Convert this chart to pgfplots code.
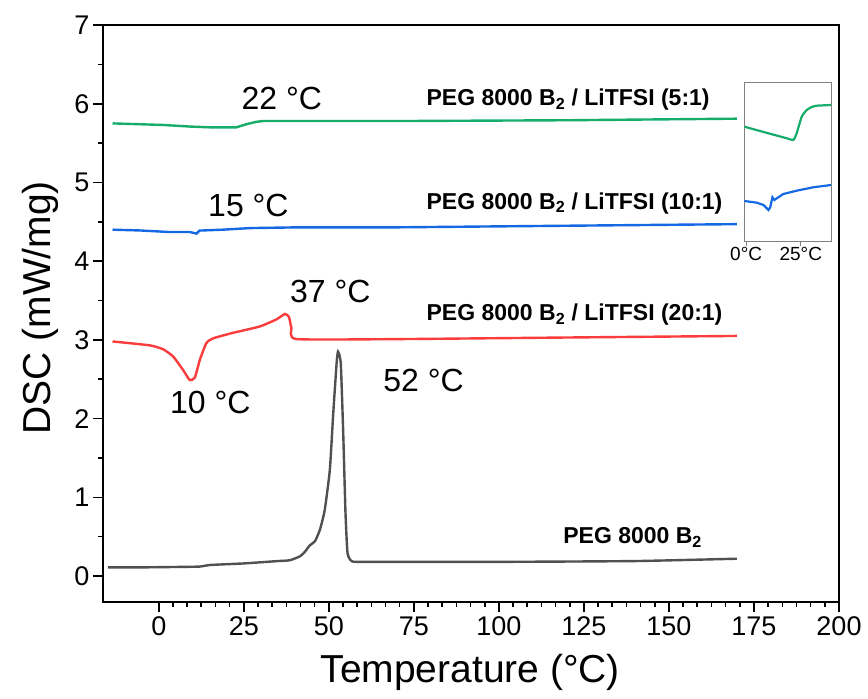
\documentclass[border=0pt]{standalone}
\usepackage{pgfplots}
\pgfplotsset{compat=1.18}
\usepackage{fontspec}
\setmainfont{Liberation Sans}
\definecolor{cgreen}{RGB}{22,172,106}
\definecolor{cblue}{RGB}{20,104,226}
\definecolor{cred}{RGB}{250,60,60}
\definecolor{cgray}{RGB}{80,80,80}
\begin{document}
\begin{tikzpicture}
\useasboundingbox (-103pt,-97pt) rectangle (765pt,602pt);
\begin{axis}[
  at={(0pt,0pt)}, anchor=south west,
  scale only axis, width=736pt, height=577pt,
  xmin=-16.4, xmax=200, ymin=-0.33, ymax=7,
  xtick={0,25,...,200}, ytick={0,1,...,7},
  minor x tick num=5, minor y tick num=1,
  tick align=outside, xtick pos=bottom, ytick pos=left,
  major tick length=10pt, minor tick length=5pt,
  axis line style={line width=1.8pt},
  every tick/.style={black, line width=1.6pt},
  /pgf/number format/assume math mode=true,
  tick label style={font=\fontsize{27}{27}\selectfont},
  xticklabel style={yshift=-1pt},
  xlabel={Temperature (°C)}, ylabel={DSC (mW/mg)},
  label style={font=\fontsize{39}{39}\selectfont},
  xlabel style={at={(axis description cs:0.499,-0.139)}, anchor=base},
  ylabel style={at={(axis description cs:-0.072,0.51)}, anchor=base, rotate=0},
  clip=false,
]
\addplot[cgray, line width=2.4pt, smooth, tension=0.3] coordinates {
(-15,0.11)(-5,0.11)(5,0.115)(12,0.12)(15,0.14)(25,0.16)(35,0.19)(38.5,0.20)(41.5,0.25)(43,0.31)(44.4,0.39)(45.9,0.44)(47.4,0.59)(48.8,0.84)(50.3,1.35)(51.3,2.07)(52.3,2.71)(52.7,2.85)(53.5,2.71)(54.2,1.86)(54.9,0.80)(55.5,0.29)(56.7,0.19)(60,0.18)(100,0.18)(140,0.19)(170,0.22)};
\addplot[cred, line width=2.4pt, smooth, tension=0.3] coordinates {
(-13.6,2.98)(-2.6,2.93)(1.3,2.88)(4.2,2.79)(7.1,2.62)(9.1,2.49)(10.6,2.52)(12.1,2.75)(14,2.96)(16,3.02)(21.9,3.09)(29.7,3.17)(34.6,3.26)(37.1,3.33)(38.3,3.29)(39,3.15)(40.5,3.01)(70.9,3.01)(120,3.03)(170,3.05)};
\addplot[cblue, line width=2.4pt] coordinates {
(-13.6,4.40)(-5.6,4.39)(3.2,4.37)(9.1,4.37)(11.1,4.35)(12,4.39)(13,4.39)(18.9,4.40)(26.8,4.42)(41.5,4.43)(70.9,4.43)(120,4.45)(170,4.47)};
\addplot[cgreen, line width=2.4pt] coordinates {
(-13.6,5.75)(1.3,5.73)(9.1,5.71)(15,5.70)(22.8,5.70)(25.8,5.74)(28.7,5.77)(30.7,5.78)(41.5,5.78)(70.9,5.78)(120,5.79)(170,5.81)};
\begin{scope}[font=\fontsize{32}{32}\selectfont]
\node[anchor=base west] at (axis cs:23.3,5.93) {22 °C};
\node[anchor=base west] at (axis cs:13.5,4.57) {15 °C};
\node[anchor=base west] at (axis cs:37.6,3.48) {37 °C};
\node[anchor=base west] at (axis cs:2.3,2.07) {10 °C};
\node[anchor=base west] at (axis cs:65,2.35) {52 °C};
\end{scope}
\begin{scope}[font=\fontsize{23}{23}\selectfont\bfseries]
\node[anchor=base west, inner sep=0pt] at (axis cs:78.7,5.98) {PEG 8000 B\textsubscript{2} / LiTFSI (5:1)};
\node[anchor=base west, inner sep=0pt] at (axis cs:78.7,4.66) {PEG 8000 B\textsubscript{2} / LiTFSI (10:1)};
\node[anchor=base west, inner sep=0pt] at (axis cs:78.7,3.24) {PEG 8000 B\textsubscript{2} / LiTFSI (20:1)};
\node[anchor=base west, inner sep=0pt] at (axis cs:118.9,0.41) {PEG 8000 B\textsubscript{2}};
\end{scope}
\end{axis}
\begin{axis}[
  at={(641pt,360pt)}, anchor=south west,
  scale only axis, width=87pt, height=159pt,
  xmin=-1, xmax=38.8, ymin=0, ymax=159,
  xtick={0,25}, xticklabels={0°C,25°C}, ytick=\empty,
  tick align=outside, xtick pos=bottom,
  major tick length=4pt,
  axis line style={gray, line width=1pt},
  every tick/.style={gray, line width=0.8pt},
  tick label style={font=\fontsize{19}{19}\selectfont},
  xticklabel style={yshift=2pt},
]
\addplot[cgreen, line width=2.2pt, smooth, tension=0.3] coordinates {
(-0.8,115.3)(4.6,112)(18.6,103.7)(21.6,102)(23.1,108.7)(25.4,125.3)(27.7,132)(30.0,135)(32.3,136.3)(38.8,137)};
\addplot[cblue, line width=2.2pt] coordinates {
(-0.8,41)(4.9,39.3)(7.9,37)(10.2,32)(11.0,34.7)(12.0,44.7)(12.9,42)(14.0,43.7)(17.0,48)(23.1,51.3)(30.7,54.7)(38.8,57)};
\end{axis}
\end{tikzpicture}
\end{document}
